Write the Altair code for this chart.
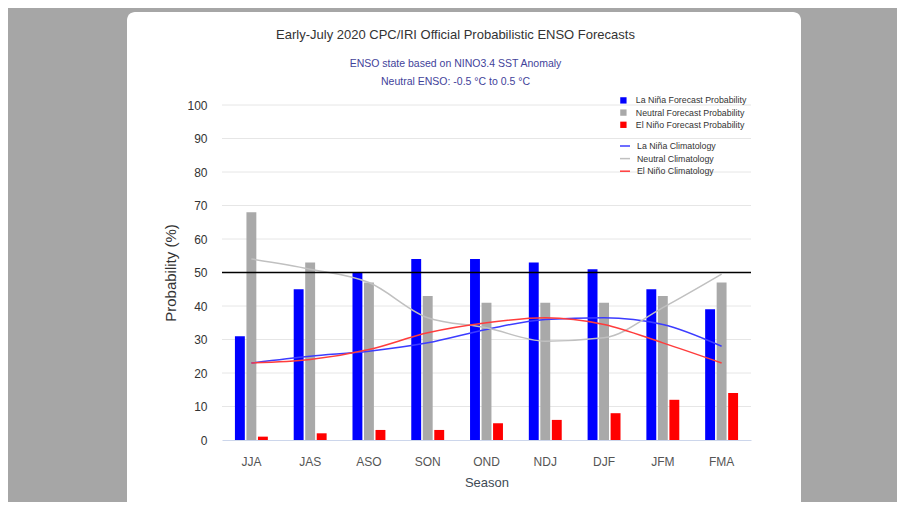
import altair as alt
import pandas as pd

# ---------------- data ----------------
seasons = ["JJA", "JAS", "ASO", "SON", "OND", "NDJ", "DJF", "JFM", "FMA"]

la_nina_prob = [31, 45, 50, 54, 54, 53, 51, 45, 39]
neutral_prob = [68, 53, 47, 43, 41, 41, 41, 43, 47]
el_nino_prob = [1, 2, 3, 3, 5, 6, 8, 12, 14]

la_nina_clim = [23, 25, 26.5, 29, 33, 36, 36.5, 34.5, 28]
neutral_clim = [54, 51, 47, 36.5, 33.5, 29.5, 30.5, 39.5, 49.5]
el_nino_clim = [23, 24, 27, 32, 35, 36.5, 34.5, 29, 23]

bar_names = ["La Niña Forecast Probability", "Neutral Forecast Probability", "El Niño Forecast Probability"]
bar_colors = ["#0000ff", "#a9a9a9", "#ff0000"]
clim_names = ["La Niña Climatology", "Neutral Climatology", "El Niño Climatology"]
clim_colors = ["#3c3cff", "#c0c0c0", "#ff3c3c"]

y_ticks = [10, 20, 30, 40, 50, 60, 70, 80, 90, 100]
threshold = [50]

title_text = "Early-July 2020 CPC/IRI Official Probabilistic ENSO Forecasts"
subtitle_lines = ["ENSO state based on NINO3.4 SST Anomaly", "Neutral ENSO: -0.5 °C to 0.5 °C"]

# ---------------- tables ----------------
bar_rows = []
for name, vals in zip(bar_names, [la_nina_prob, neutral_prob, el_nino_prob]):
    for s, v in zip(seasons, vals):
        bar_rows.append({"season": s, "series": name, "value": v})
bars_df = pd.DataFrame(bar_rows)

clim_rows = []
for name, vals in zip(clim_names, [la_nina_clim, neutral_clim, el_nino_clim]):
    for s, v in zip(seasons, vals):
        clim_rows.append({"season": s, "clim": name, "value": v})
clim_df = pd.DataFrame(clim_rows)

grid_df = pd.DataFrame({"value": y_ticks})
thr_df = pd.DataFrame({"value": threshold})

FONT = "Liberation Sans, sans-serif"

W, H = 529, 335

x_scale = alt.Scale(domain=seasons, paddingInner=0.44, paddingOuter=0.22)
y_scale = alt.Scale(domain=[0, 100], nice=False)

x_axis = alt.Axis(
    title="Season", labelAngle=0, ticks=False, grid=False, zindex=1,
    domainColor="#ccd6eb", domainWidth=1,
    labelPadding=16, labelFont=FONT, labelFontSize=12, labelColor="#555555",
    titlePadding=9, titleFont=FONT, titleFontSize=13, titleColor="#404a55",
    titleFontWeight="normal",
)
y_axis = alt.Axis(
    title="Probability (%)", values=[0] + y_ticks, ticks=False, grid=False,
    domain=False, zindex=1,
    labelPadding=15, labelFont=FONT, labelFontSize=12, labelColor="#333333",
    titlePadding=8, titleFont=FONT, titleFontSize=15, titleColor="#333333",
    titleFontWeight="normal",
)

# white card behind everything (decoration)
card = alt.Chart(alt.Data(values=[{"card": 1}])).mark_rect(
    color="white", cornerRadius=8
).encode(
    x=alt.value(-95), x2=alt.value(579), y=alt.value(-93), y2=alt.value(405)
)

grid = alt.Chart(grid_df).mark_rule(color="#e6e6e6", strokeWidth=1).encode(
    y=alt.Y("value:Q", scale=y_scale, axis=y_axis)
)

bars = alt.Chart(bars_df).mark_bar().encode(
    x=alt.X("season:N", scale=x_scale, axis=x_axis, sort=seasons),
    xOffset=alt.XOffset("series:N", scale=alt.Scale(domain=bar_names, paddingInner=0.14)),
    y=alt.Y("value:Q", scale=y_scale, axis=y_axis),
    color=alt.Color(
        "series:N",
        scale=alt.Scale(domain=bar_names, range=bar_colors),
        legend=alt.Legend(
            title=None, orient="none", legendX=397, legendY=-9,
            symbolType="square", symbolSize=40, symbolStrokeWidth=0,
            labelFont=FONT, labelFontSize=8.8, labelColor="#333333",
            labelOffset=8, rowPadding=2.2, padding=0,
        ),
    ),
)

lines = alt.Chart(clim_df).mark_line(interpolate="monotone", strokeWidth=1.5).encode(
    x=alt.X("season:N", scale=x_scale, axis=x_axis, sort=seasons),
    y=alt.Y("value:Q", scale=y_scale, axis=y_axis),
    stroke=alt.Stroke(
        "clim:N",
        scale=alt.Scale(domain=clim_names, range=clim_colors),
        legend=alt.Legend(
            title=None, orient="none", legendX=397, legendY=35,
            symbolType="stroke", symbolSize=100, symbolStrokeWidth=1.5,
            labelFont=FONT, labelFontSize=8.8, labelColor="#333333",
            labelOffset=6, rowPadding=1.6, padding=0,
        ),
    ),
    detail="clim:N",
)

thr = alt.Chart(thr_df).mark_rule(color="#000000", strokeWidth=1.5).encode(
    y=alt.Y("value:Q", scale=y_scale, axis=y_axis)
)

chart = alt.layer(card, grid, bars, lines, thr).resolve_scale(
    color="independent", stroke="independent"
).properties(
    width=W, height=H,
    autosize=alt.AutoSizeParams(type="none"),
    padding={"left": 214, "top": 97, "right": 146, "bottom": 62},
    background="#a6a6a6",
    title=alt.TitleParams(
        text=title_text, subtitle=subtitle_lines,
        anchor="middle", frame="group", dx=-31,
        font=FONT, fontSize=13, fontWeight="normal", color="#333333",
        subtitleFont=FONT, subtitleFontSize=10.5, subtitleColor="#42429a",
        subtitlePadding=17, subtitleLineHeight=18, offset=-75,
    ),
).configure_view(stroke=None)

chart.save("out.html", embed_options={"renderer": "svg", "actions": False})
